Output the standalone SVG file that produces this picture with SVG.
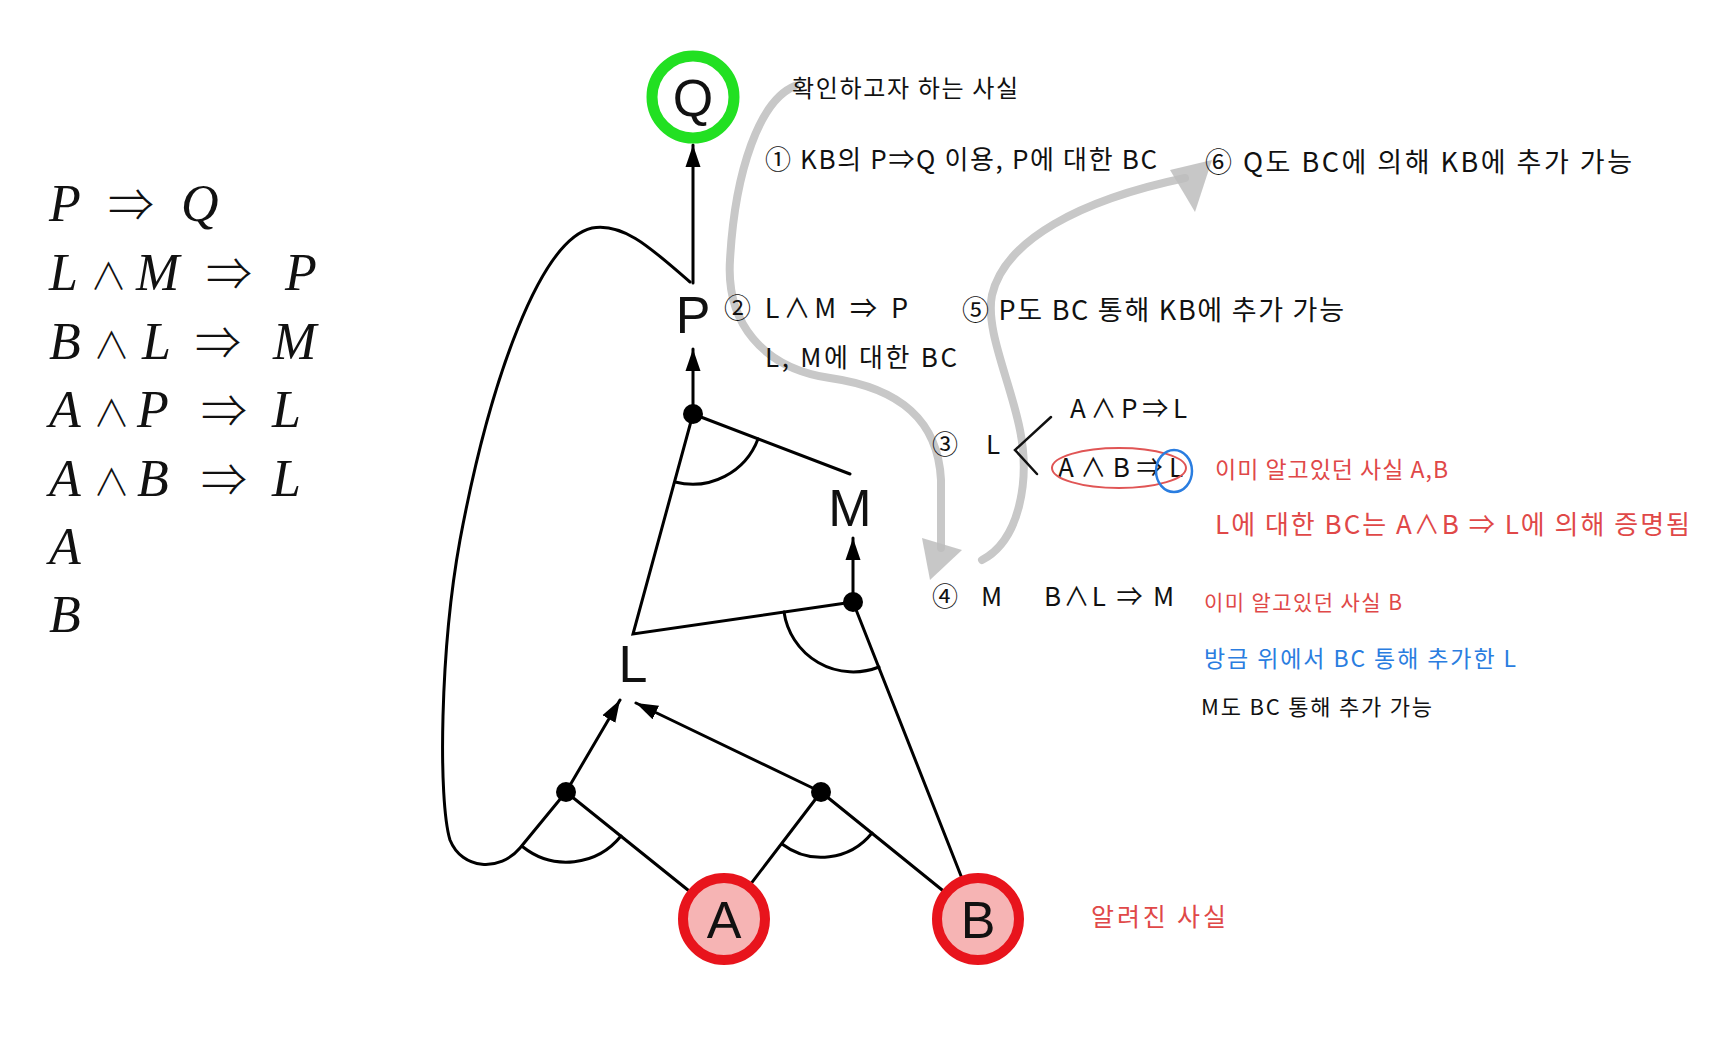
<svg xmlns="http://www.w3.org/2000/svg" width="1720" height="1052" viewBox="0 0 1720 1052">
<defs>
<marker id="ah" markerUnits="userSpaceOnUse" markerWidth="24" markerHeight="18" refX="22" refY="8" orient="auto">
<path d="M0,0.5 L22,8 L0,15.5 Z" fill="#000"/>
</marker>
<style>
.e{fill:none;stroke:#000;stroke-width:3;stroke-linecap:round}
.dot{fill:#000}
.lbl{font-family:"Liberation Sans",Arial,sans-serif;font-size:52px;fill:#111;text-anchor:middle}
.eq{font-family:"Liberation Serif","DejaVu Serif",serif;font-size:52px;fill:#111}
.it{font-style:italic}
.op{font-family:"Noto Sans CJK KR","DejaVu Serif",sans-serif;font-style:normal;font-weight:300;font-size:46px}
.and{font-family:"Noto Sans CJK KR","DejaVu Serif",sans-serif;font-style:normal;font-weight:300;font-size:37px}
.hw{font-family:"Noto Sans CJK KR","Noto Sans",sans-serif;fill:#111}
.red{fill:#e04848}
.blue{fill:#2a7de0}
.gray{fill:none;stroke:#c8c8c8;stroke-width:8;stroke-linecap:round;stroke-linejoin:round}
.gh{fill:#bdbdbd;opacity:0.85}
.fact{fill:#f6b4b4;stroke:#e8141c;stroke-width:10}
</style>
</defs>
<rect width="1720" height="1052" fill="#fff"/>

<g id="rules">
<text class="eq" y="221"><tspan class="it" x="49">P</tspan><tspan class="op" x="108">⇒</tspan><tspan class="it" x="181">Q</tspan></text>
<text class="eq" y="290"><tspan class="it" x="49">L</tspan><tspan class="and" x="90">∧</tspan><tspan class="it" x="136">M</tspan><tspan class="op" x="206">⇒</tspan><tspan class="it" x="285">P</tspan></text>
<text class="eq" y="359"><tspan class="it" x="49">B</tspan><tspan class="and" x="93">∧</tspan><tspan class="it" x="142">L</tspan><tspan class="op" x="195">⇒</tspan><tspan class="it" x="273">M</tspan></text>
<text class="eq" y="427"><tspan class="it" x="49">A</tspan><tspan class="and" x="93">∧</tspan><tspan class="it" x="137">P</tspan><tspan class="op" x="201">⇒</tspan><tspan class="it" x="272">L</tspan></text>
<text class="eq" y="496"><tspan class="it" x="49">A</tspan><tspan class="and" x="93">∧</tspan><tspan class="it" x="137">B</tspan><tspan class="op" x="201">⇒</tspan><tspan class="it" x="272">L</tspan></text>
<text class="eq it" x="49" y="564">A</text>
<text class="eq it" x="49" y="632">B</text>
</g>

<g id="connectors">
<path class="e" d="M693,283 L693,145" marker-end="url(#ah)"/>
<path class="e" d="M693,414 L693,349" marker-end="url(#ah)"/>
<path class="e" d="M853,602 L853,538" marker-end="url(#ah)"/>
<path class="e" d="M566,792 L620,700" marker-end="url(#ah)"/>
<path class="e" d="M821,792 L636,703" marker-end="url(#ah)"/>
<path class="e" d="M693,414 L633,634 L853,602"/>
<path class="e" d="M693,414 L850,474"/>
<path class="e" d="M853,602 L978,919"/>
<path class="e" d="M566,792 L724,919 L821,792 L978,919"/>
<path class="e" d="M675,482 A70,70 0 0 0 758,439"/>
<path class="e" d="M784,612 A70,70 0 0 0 879,667"/>
<path class="e" d="M523,847 A70,70 0 0 0 621,836"/>
<path class="e" d="M782,844 A65,65 0 0 0 872,833"/>
<path class="e" d="M566,792 L520,848 C500,872 462,870 450,840 C438,800 440,650 460,540 C490,380 540,240 592,228 C625,222 655,252 690,282"/>
<circle class="dot" cx="693" cy="414" r="10"/>
<circle class="dot" cx="853" cy="602" r="10"/>
<circle class="dot" cx="566" cy="792" r="10"/>
<circle class="dot" cx="821" cy="792" r="10"/>
</g>

<g id="node-Q">
<circle cx="693" cy="97" r="41" fill="#fff" stroke="#22e022" stroke-width="11"/>
<text class="lbl" x="693" y="116">Q</text>
</g>
<g id="node-P"><text class="lbl" x="693" y="333">P</text></g>
<g id="node-M"><text class="lbl" x="850" y="526">M</text></g>
<g id="node-L"><text class="lbl" x="633" y="682">L</text></g>
<g id="node-A">
<circle class="fact" cx="724" cy="919" r="41"/>
<text class="lbl" x="724" y="938">A</text>
</g>
<g id="node-B">
<circle class="fact" cx="978" cy="919" r="41"/>
<text class="lbl" x="978" y="938">B</text>
</g>

<g id="annotations">
<path class="gray" d="M795,86 C760,100 735,170 730,260 C726,322 762,368 830,378 C900,388 938,420 941,480 L941,548"/>
<polygon class="gh" points="922,538 962,550 930,580"/>
<path class="gray" d="M982,560 C1020,540 1030,480 1020,430 C1010,380 985,330 992,295 C1005,240 1080,200 1185,178"/>
<polygon class="gh" points="1170,170 1212,160 1195,212"/>

<text class="hw" x="792" y="97" style="font-size:24px" textLength="226" lengthAdjust="spacing">확인하고자 하는 사실</text>
<text class="hw" x="765" y="169" style="font-size:26px" textLength="392" lengthAdjust="spacing">① KB의 P⇒Q 이용, P에 대한 BC</text>
<text class="hw" x="1205" y="172" style="font-size:27px" textLength="427" lengthAdjust="spacing">⑥ Q도 BC에 의해 KB에 추가 가능</text>
<text class="hw" x="724" y="318" style="font-size:27px" textLength="184" lengthAdjust="spacing">② L∧M ⇒ P</text>
<text class="hw" x="765" y="367" style="font-size:26px" textLength="192" lengthAdjust="spacing">L, M에 대한 BC</text>
<text class="hw" x="962" y="320" style="font-size:27px" textLength="382" lengthAdjust="spacing">⑤ P도 BC 통해 KB에 추가 가능</text>
<text class="hw" x="1070" y="418" style="font-size:26px" textLength="117" lengthAdjust="spacing">A∧P⇒L</text>
<text class="hw" x="932" y="454" style="font-size:26px" textLength="68" lengthAdjust="spacing">③ L</text>
<polyline points="1051,417 1015,450 1037,474" fill="none" stroke="#111" stroke-width="2.5" stroke-linecap="round"/>
<text class="hw" x="1058" y="477" style="font-size:26px" textLength="125" lengthAdjust="spacing">A∧B⇒L</text>
<ellipse cx="1119" cy="468" rx="67" ry="20" fill="none" stroke="#e05555" stroke-width="2"/>
<ellipse cx="1174" cy="471" rx="18" ry="21" fill="none" stroke="#2a7de0" stroke-width="2.5"/>
<text class="hw red" x="1215" y="478" style="font-size:23px" textLength="233" lengthAdjust="spacing">이미 알고있던 사실 A,B</text>
<text class="hw red" x="1215" y="534" style="font-size:26px" textLength="475" lengthAdjust="spacing">L에 대한 BC는 A∧B ⇒ L에 의해 증명됨</text>
<text class="hw" x="932" y="606" style="font-size:26px" textLength="70" lengthAdjust="spacing">④ M</text>
<text class="hw" x="1044" y="606" style="font-size:26px" textLength="130" lengthAdjust="spacing">B∧L ⇒ M</text>
<text class="hw red" x="1204" y="610" style="font-size:21px" textLength="198" lengthAdjust="spacing">이미 알고있던 사실 B</text>
<text class="hw blue" x="1204" y="667" style="font-size:23px" textLength="312" lengthAdjust="spacing">방금 위에서 BC 통해 추가한 L</text>
<text class="hw" x="1201" y="715" style="font-size:22px" textLength="231" lengthAdjust="spacing">M도 BC 통해 추가 가능</text>
<text class="hw red" x="1091" y="926" style="font-size:25px" textLength="135" lengthAdjust="spacing">알려진 사실</text>
</g>
</svg>
